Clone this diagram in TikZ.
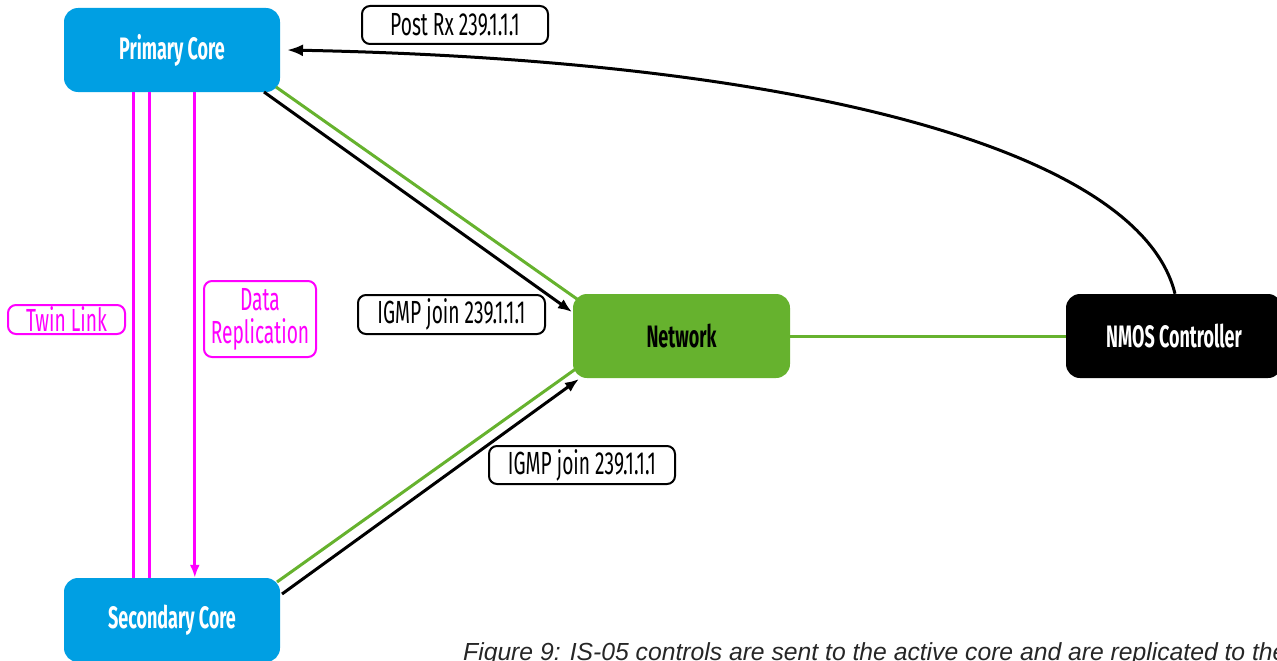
\documentclass[tikz,border=0pt]{standalone}
\usepackage{fontspec}
\usetikzlibrary{arrows.meta,calc}
\setmainfont{Liberation Sans}
\newfontfamily\condfont[FakeStretch=0.58]{Fira Sans}
\newfontfamily\tagfont[FakeStretch=0.6]{Fira Sans}
\definecolor{coreblue}{RGB}{0,159,227}
\definecolor{netgreen}{RGB}{102,178,46}
\definecolor{repmag}{RGB}{255,0,255}
\tikzset{
  box/.style={rounded corners=14pt, minimum width=216pt, minimum height=84pt,
    inner sep=0pt, font=\condfont\bfseries\fontsize{31}{32}\selectfont},
  tag/.style={draw=black, line width=2pt, fill=white, rounded corners=8pt,
    inner sep=0pt, font=\tagfont\fontsize{32}{32}\selectfont, align=center},
  magtag/.style={tag, draw=repmag, text=repmag},
  wire/.style={line width=3pt},
  arr/.style={wire, -{Latex[length=14pt,width=11pt]}},
}
\begin{document}
\begin{tikzpicture}[x=1pt,y=-1pt]
\clip (0,0) rectangle (1277,661);
\useasboundingbox (0,0) rectangle (1277,661);

% nodes
\node[box, fill=coreblue, text=white] (pc) at (172,50) {Primary Core};
\node[box, fill=coreblue, text=white] (sc) at (172,620) {Secondary Core};
\node[box, fill=netgreen, text=black, minimum width=217pt] (net) at (681.5,336) {Network};
\node[box, fill=black, text=white] (nmos) at (1174,336) {NMOS Controller};

% labels
\node[tag, minimum width=186pt, minimum height=38pt] (postrx) at (455,25) {Post Rx 239.1.1.1};
\node[tag, minimum width=187pt, minimum height=39pt] (igmpa) at (451.5,314.5) {IGMP join 239.1.1.1};
\node[tag, minimum width=186pt, minimum height=38pt] (igmpb) at (582,465) {IGMP join 239.1.1.1};
\node[magtag, minimum width=117pt, minimum height=29pt] (twin) at (66.5,319.5) {Twin Link};
\node[magtag, minimum width=112pt, minimum height=76pt] (datarep) at (260,319) {Data\\[1pt]Replication};

% twin link and replication between the cores
\draw[wire, repmag] ($(pc.south west)+(70,0)$) -- ($(sc.north west)+(70,0)$);
\draw[wire, repmag] ($(pc.south west)+(86,0)$) -- ($(sc.north west)+(86,0)$);
\draw[repmag, line width=3pt, -{Latex[length=13pt,width=10pt]}] ($(pc.south west)+(131,0)$) -- ($(sc.north west)+(131,0)$);

% core to network paths
\coordinate (pcg) at (276,87);
\coordinate (netg1) at (577,299);
\coordinate (pcb) at (264,92);
\coordinate (netb1) at (572,312);
\coordinate (scg) at (277,582);
\coordinate (netg2) at (577,368);
\coordinate (scb) at (282,594);
\coordinate (netb2) at (579,379);
\draw[wire, netgreen] (pcg) -- (netg1);
\draw[arr, black] (pcb) -- (netb1);
\draw[wire, netgreen] (scg) -- (netg2);
\draw[arr, black] (scb) -- (netb2);

% network to controller
\draw[wire, netgreen] (net.east) -- (nmos.west);

% controller posts to the primary core
\coordinate (pin) at (287,50);
\draw[wire, black, -{Latex[length=16pt,width=12pt]}] ($(nmos.north)+(1,0)$) .. controls (1140,150) and (800,60) .. (pin);

% caption
\node[anchor=base west, inner sep=0pt, text=black!85, font=\itshape\fontsize{24.7}{28}\selectfont] (cap) at (463,660)
  {Figure 9: IS-05 controls are sent to the active core and are replicated to the};
\end{tikzpicture}
\end{document}
